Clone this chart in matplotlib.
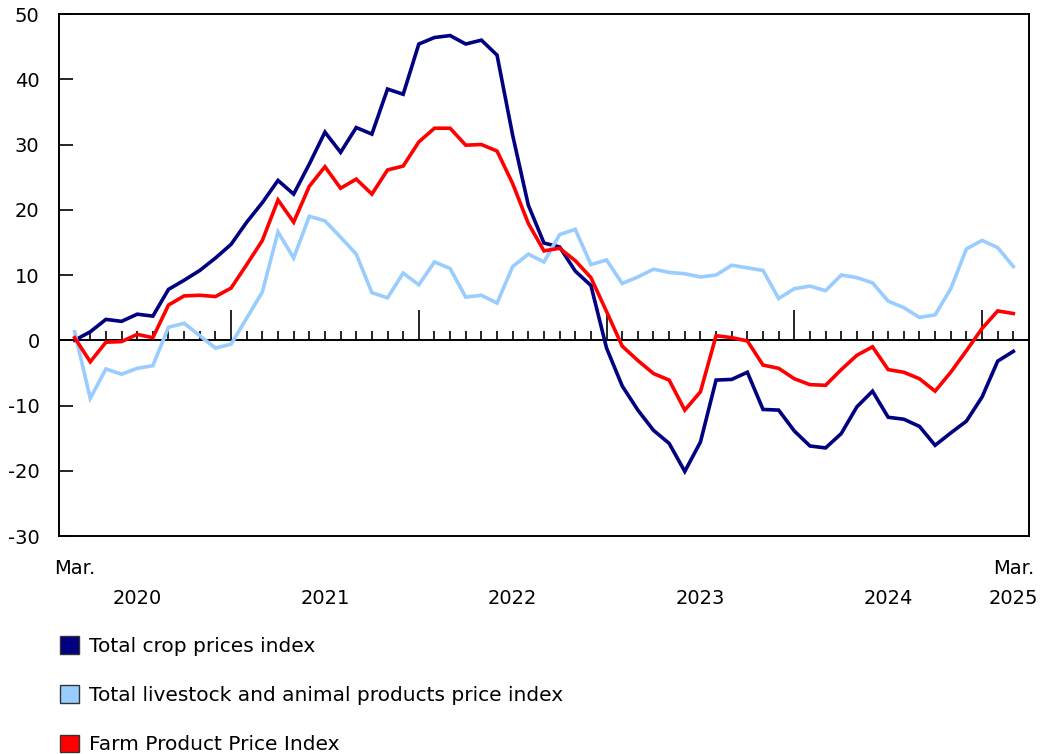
import matplotlib
matplotlib.use("Agg")
import matplotlib.pyplot as plt
from matplotlib.patches import Patch
import numpy as np

# monthly, Mar. 2020 to Mar. 2025 (year-over-year % change)
crops = [0.0, 1.3, 3.2, 2.9, 4.0, 3.7, 7.8, 9.2, 10.7, 12.6,
         14.7, 18.1, 21.1, 24.5, 22.4, 27.0, 31.9, 28.8, 32.6, 31.6,
         38.5, 37.7, 45.4, 46.4, 46.7, 45.4, 46.0, 43.7, 31.4, 20.7,
         14.9, 14.3, 10.6, 8.4, -1.2, -7.0, -10.7, -13.8, -15.8, -20.1,
         -15.6, -6.1, -6.0, -4.9, -10.6, -10.7, -13.9, -16.2, -16.5, -14.3,
         -10.2, -7.8, -11.8, -12.1, -13.2, -16.1, -14.2, -12.4, -8.7, -3.2,
         -1.7]
livestock = [1.3, -8.9, -4.4, -5.2, -4.3, -3.9, 2.0, 2.6, 0.7, -1.2,
             -0.6, 3.4, 7.4, 16.6, 12.6, 19.0, 18.3, 15.8, 13.2, 7.3,
             6.5, 10.3, 8.5, 12.0, 11.0, 6.6, 6.9, 5.7, 11.3, 13.2,
             12.0, 16.2, 17.0, 11.6, 12.3, 8.7, 9.7, 10.9, 10.4, 10.2,
             9.7, 10.0, 11.5, 11.1, 10.7, 6.4, 7.9, 8.3, 7.6, 10.0,
             9.6, 8.8, 6.0, 5.0, 3.5, 3.9, 7.9, 14.0, 15.3, 14.2,
             11.3]
farm = [0.4, -3.3, -0.3, -0.2, 0.9, 0.4, 5.4, 6.8, 6.9, 6.7,
        8.0, 11.6, 15.3, 21.5, 18.1, 23.6, 26.6, 23.3, 24.7, 22.4,
        26.1, 26.7, 30.4, 32.5, 32.5, 29.9, 30.0, 29.0, 24.0, 17.9,
        13.7, 14.1, 12.2, 9.6, 4.4, -0.9, -3.1, -5.1, -6.1, -10.7,
        -7.9, 0.7, 0.4, -0.1, -3.8, -4.3, -5.9, -6.8, -6.9, -4.5,
        -2.3, -1.0, -4.5, -4.9, -5.9, -7.8, -4.9, -1.6, 1.8, 4.5,
        4.1]

series_names = ["Total crop prices index",
                "Total livestock and animal products price index",
                "Farm Product Price Index"]
colors = ["#000080", "#99ccff", "#ff0000"]

years = ["2020", "2021", "2022", "2023", "2024", "2025"]
year_pos = [4, 16, 28, 40, 52, 60]
jan_idx = [10, 22, 34, 46, 58]

plt.rcParams["font.family"] = "DejaVu Sans"
plt.rcParams["font.size"] = 14
plt.rcParams["axes.unicode_minus"] = False

fig = plt.figure(figsize=(10.42, 7.54), dpi=100)
ax = fig.add_axes([0.0566, 0.2891, 0.9309, 0.6923])

x = np.arange(len(crops))
for vals, c in zip([crops, livestock, farm], colors):
    ax.plot(x, vals, color=c, lw=2.6, solid_joinstyle="miter")

# zero line with month ticks
ax.axhline(0, color="black", lw=1.4, zorder=1)
minor = [i for i in x if i not in jan_idx]
ax.vlines(minor, 0, 1.4, color="black", lw=1.2, zorder=1)
ax.vlines(jan_idx, 0, 4.6, color="black", lw=1.2, zorder=1)

ax.set_xlim(-1, 61)
ax.set_ylim(-30, 50)
ax.set_yticks(range(-30, 51, 10))
ax.tick_params(axis="y", direction="in", length=10, width=1.2, pad=14)
ax.set_xticks([])
for s in ax.spines.values():
    s.set_linewidth(1.4)

# month / year labels below the plot
for xi in [0, 60]:
    ax.text(xi, -35.0, "Mar.", ha="center", va="center", fontsize=14)
for yr, xp in zip(years, year_pos):
    ax.text(xp, -39.6, yr, ha="center", va="center", fontsize=14)

handles = [Patch(facecolor=c, edgecolor="#333333", lw=1) for c in colors]
fig.legend(handles, series_names, loc="upper left",
           bbox_to_anchor=(0.050, 0.167), frameon=False,
           handlelength=0.95, handleheight=0.95, handletextpad=0.5,
           labelspacing=1.47, fontsize=14.5, borderaxespad=0)

fig.savefig("out.png", dpi=100)
